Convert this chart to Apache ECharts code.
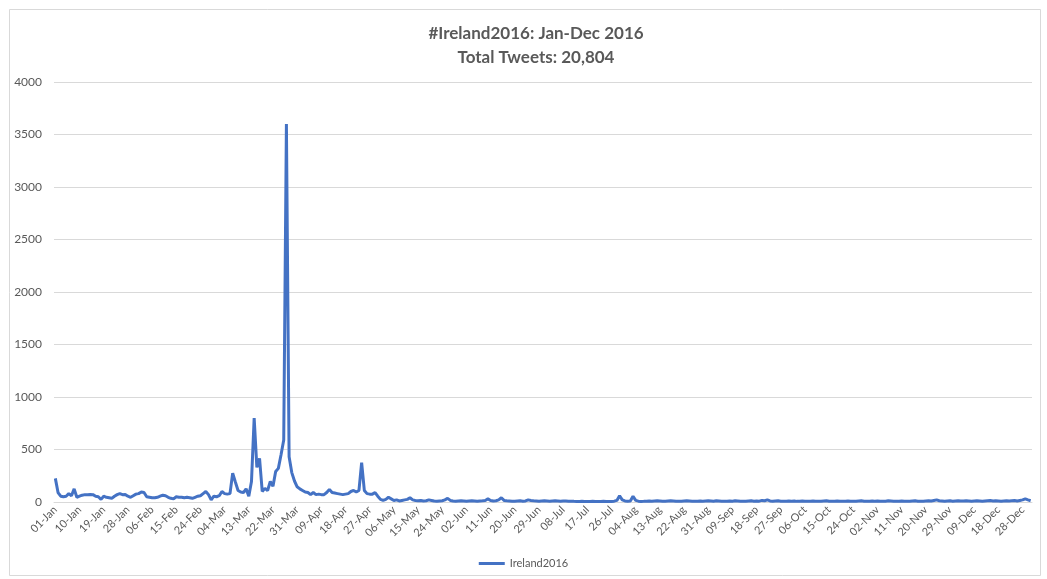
<!DOCTYPE html>
<html>
<head>
<meta charset="utf-8">
<script src="https://cdn.jsdelivr.net/npm/echarts@6/dist/echarts.min.js"></script>
<style>
html,body{margin:0;padding:0;background:#fff;}
#c{width:1047px;height:579px;}
</style>
</head>
<body>
<div id="c"></div>
<script>
const monthNames = ['Jan','Feb','Mar','Apr','May','Jun','Jul','Aug','Sep','Oct','Nov','Dec'];
const monthDays = [31,29,31,30,31,30,31,31,30,31,30,31];
// dates absent from the source data (no row in the sheet)
const missingDates = ['04-Dec','25-Dec'];
const yTicks = [0,500,1000,1500,2000,2500,3000,3500,4000];
const seriesName = 'Ireland2016';

const jan = [225,90,55,50,55,80,60,125,45,55,65,70,70,72,70,55,50,25,55,45,40,35,55,70,80,70,72,55,45,60,75];
const feb = [80,95,90,50,45,40,40,45,55,65,60,45,35,30,50,45,45,40,45,40,35,45,55,60,80,100,70,20,55];
const mar = [50,60,100,80,75,80,275,190,110,95,90,125,55,195,800,330,415,100,130,110,195,150,290,320,450,590,3600,430,280,200,145];
const apr = [125,110,95,90,70,90,70,75,70,70,90,120,90,85,80,75,70,75,80,100,110,95,110,375,110,80,75,75,90,55];
const may = [25,15,25,45,30,15,20,10,15,20,25,40,20,15,12,15,10,12,20,15,10,8,10,12,20,35,15,10,8,10,12];
const jun = [10,8,10,12,10,8,10,12,15,30,15,10,12,20,40,15,12,10,8,8,10,12,8,10,20,15,12,10,8,10];
const jul = [12,10,8,10,12,10,8,10,10,8,8,6,5,5,6,5,5,5,6,5,5,5,6,5,5,5,8,15,60,20,10];
const aug = [8,10,55,15,8,5,6,8,10,8,10,12,10,8,8,10,12,10,8,6,8,10,12,10,8,6,8,10,8,10,12];
const sep = [10,8,12,10,8,6,8,10,8,12,10,8,6,8,10,12,8,10,8,15,12,20,10,8,10,12,8,6,8,10];
const oct = [8,10,6,8,10,8,6,8,10,8,6,8,10,12,8,6,8,10,8,6,8,10,8,6,8,10,12,8,6,8,10];
const nov = [8,10,8,6,8,12,10,8,6,8,10,8,6,8,10,12,8,6,8,10,12,10,15,20,12,10,8,10,12,8];
const dec = [10,12,10,10,12,10,8,10,12,10,8,10,12,14,10,12,10,8,10,12,10,12,14,10,15,20,30,20,12];

const categories = [];
monthNames.forEach((m, i) => {
  for (let d = 1; d <= monthDays[i]; d++) {
    const lab = (d < 10 ? '0' : '') + d + '-' + m;
    if (missingDates.indexOf(lab) < 0) categories.push(lab);
  }
});
const values = [].concat(jan, feb, mar, apr, may, jun, jul, aug, sep, oct, nov, dec);

const chart = echarts.init(document.getElementById('c'), null, {renderer: 'canvas'});
const gray = '#595959';
chart.setOption({
  animation: false,
  backgroundColor: '#fff',
  graphic: [{
    type: 'rect',
    shape: {x: 9.5, y: 9.5, width: 1031, height: 566},
    style: {fill: 'none', stroke: '#d9d9d9', lineWidth: 1},
    silent: true, z: -1
  }],
  title: {
    text: '#Ireland2016: Jan-Dec 2016\nTotal Tweets: 20,804',
    left: 531, top: 17, textAlign: 'center',
    textStyle: {fontFamily: 'Lato', fontSize: 17, fontWeight: 'bold', color: gray, lineHeight: 24}
  },
  legend: {
    bottom: 5, left: 'center',
    itemWidth: 26, itemHeight: 3, icon: 'rect',
    textStyle: {fontFamily: 'Lato', fontSize: 11, color: gray},
    data: [seriesName]
  },
  grid: {left: 54, right: 15, top: 82, bottom: 77, containLabel: false},
  xAxis: {
    type: 'category',
    data: categories,
    boundaryGap: true,
    axisLine: {lineStyle: {color: '#d9d9d9', width: 1}},
    axisTick: {show: false},
    axisLabel: {interval: 8, rotate: 45, color: gray, fontFamily: 'Lato', fontSize: 11, margin: 6}
  },
  yAxis: {
    type: 'value',
    min: yTicks[0], max: yTicks[yTicks.length - 1], interval: 500,
    axisLine: {show: false},
    axisTick: {show: false},
    splitLine: {lineStyle: {color: '#d9d9d9', width: 1}},
    axisLabel: {color: gray, fontFamily: 'Lato', fontSize: 12, margin: 12, formatter: v => String(v)}
  },
  series: [{
    name: seriesName,
    type: 'line',
    data: values,
    showSymbol: false,
    symbol: 'none',
    lineStyle: {color: '#4472C4', width: 3},
    itemStyle: {color: '#4472C4'}
  }]
});
</script>
</body>
</html>
